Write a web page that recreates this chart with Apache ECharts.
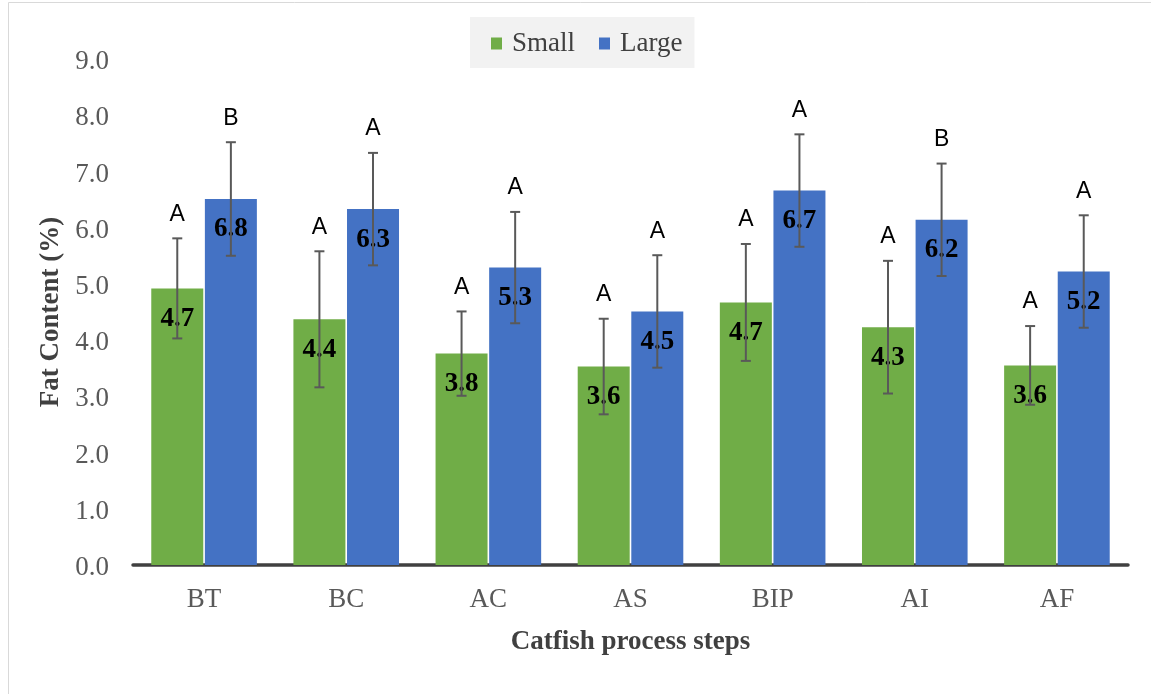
<!DOCTYPE html>
<html>
<head>
<meta charset="utf-8">
<script src="https://cdn.jsdelivr.net/npm/echarts@6/dist/echarts.min.js"></script>
<style>
  html, body { margin: 0; padding: 0; background: #ffffff; }
  #chart { width: 1151px; height: 694px; }
</style>
</head>
<body>
<div id="chart"></div>
<script>
// ---- data ----
const categories = ['BT', 'BC', 'AC', 'AS', 'BIP', 'AI', 'AF'];
const smallMean = [4.92, 4.37, 3.76, 3.53, 4.67, 4.23, 3.55];
const largeMean = [6.51, 6.33, 5.29, 4.51, 6.66, 6.14, 5.22];
const smallErr = [0.89, 1.21, 0.75, 0.85, 1.04, 1.18, 0.70];
const largeErr = [1.01, 1.00, 0.99, 1.00, 1.00, 1.00, 1.00];
const smallLabels = ['4.7', '4.4', '3.8', '3.6', '4.7', '4.3', '3.6'];
const largeLabels = ['6.8', '6.3', '5.3', '4.5', '6.7', '6.2', '5.2'];
const smallLetters = ['A', 'A', 'A', 'A', 'A', 'A', 'A'];
const largeLetters = ['B', 'A', 'A', 'A', 'A', 'B', 'A'];
const yTicks = [0, 1, 2, 3, 4, 5, 6, 7, 8, 9];

// ---- styling ----
const SERIF = '"Liberation Serif", "Times New Roman", serif';
const SANS = '"Liberation Sans", Arial, sans-serif';
const BAR_W = 52;
const BAR_GAP_PX = 1.6;
const HALF = (BAR_W + BAR_GAP_PX) / 2;

function errSeries(name, means, errs, letters, sign) {
  return {
    type: 'custom',
    name: name + ' err',
    z: 10,
    clip: false,
    silent: true,
    data: means.map((m, i) => [i, m, errs[i]]),
    renderItem: function (params, api) {
      const i = api.value(0), m = api.value(1), e = api.value(2);
      const top = api.coord([i, m + e]);
      const bot = api.coord([i, m - e]);
      const x = top[0] + sign * HALF;
      const cap = 5;
      const st = { stroke: '#595959', lineWidth: 2 };
      return {
        type: 'group',
        children: [
          { type: 'line', shape: { x1: x, y1: top[1], x2: x, y2: bot[1] }, style: st },
          { type: 'line', shape: { x1: x - cap, y1: top[1], x2: x + cap, y2: top[1] }, style: st },
          { type: 'line', shape: { x1: x - cap, y1: bot[1], x2: x + cap, y2: bot[1] }, style: st },
          { type: 'text', x: x, y: top[1] - 24, style: {
              text: letters[params.dataIndex], fill: '#000000',
              font: '23px ' + SANS, align: 'center', verticalAlign: 'middle' } }
        ]
      };
    }
  };
}

function barSeries(name, data, color, labels) {
  return {
    type: 'bar',
    name: name,
    data: data,
    barWidth: BAR_W,
    barGap: (BAR_GAP_PX / BAR_W * 100) + '%',
    itemStyle: { color: color },
    label: {
      show: true,
      position: 'insideTop',
      distance: 17,
      fontFamily: SERIF,
      fontWeight: 'bold',
      fontSize: 27,
      color: '#000000',
      formatter: p => labels[p.dataIndex]
    }
  };
}

const chart = echarts.init(document.getElementById('chart'), null, { renderer: 'canvas' });
chart.setOption({
  animation: false,
  backgroundColor: '#ffffff',
  graphic: [{
    type: 'rect', silent: true, z: -10,
    shape: { x: 8.5, y: 2.5, width: 1200, height: 760 },
    style: { fill: 'none', stroke: '#d9d9d9', lineWidth: 1 }
  }],
  legend: {
    data: ['Small', 'Large'],
    left: 470, top: 17,
    padding: [13, 12, 11, 21],
    backgroundColor: '#f2f2f2',
    itemWidth: 11, itemHeight: 12, itemGap: 24,
    icon: 'rect',
    textStyle: { fontFamily: SERIF, fontSize: 27, color: '#404040', padding: [0, 0, 0, 5] }
  },
  grid: { left: 133, right: 23, top: 59, bottom: 129, containLabel: false },
  xAxis: {
    type: 'category',
    data: categories,
    axisLine: { show: true, lineStyle: { color: '#404040', width: 3.5 } },
    axisTick: { show: false },
    axisLabel: { fontFamily: SERIF, fontSize: 27, color: '#595959', margin: 21 },
    name: 'Catfish process steps',
    nameLocation: 'middle',
    nameGap: 64,
    nameTextStyle: { fontFamily: SERIF, fontSize: 27, fontWeight: 'bold', color: '#404040' }
  },
  yAxis: {
    type: 'value',
    min: yTicks[0], max: yTicks[yTicks.length - 1], interval: 1,
    splitLine: { show: false },
    axisLine: { show: false },
    axisTick: { show: false },
    axisLabel: { margin: 24,
      formatter: v => '{t|' + v.toFixed(1) + '}',
      rich: { t: { fontFamily: SERIF, fontSize: 27, color: '#595959', padding: [6, 0, 0, 0] } } },
    name: 'Fat Content (%)',
    nameLocation: 'middle',
    nameGap: 67,
    nameTextStyle: { fontFamily: SERIF, fontSize: 27, fontWeight: 'bold', color: '#404040' }
  },
  series: [
    barSeries('Small', smallMean, '#70ad47', smallLabels),
    barSeries('Large', largeMean, '#4472c4', largeLabels),
    errSeries('Small', smallMean, smallErr, smallLetters, -1),
    errSeries('Large', largeMean, largeErr, largeLetters, 1)
  ]
});
</script>
</body>
</html>
